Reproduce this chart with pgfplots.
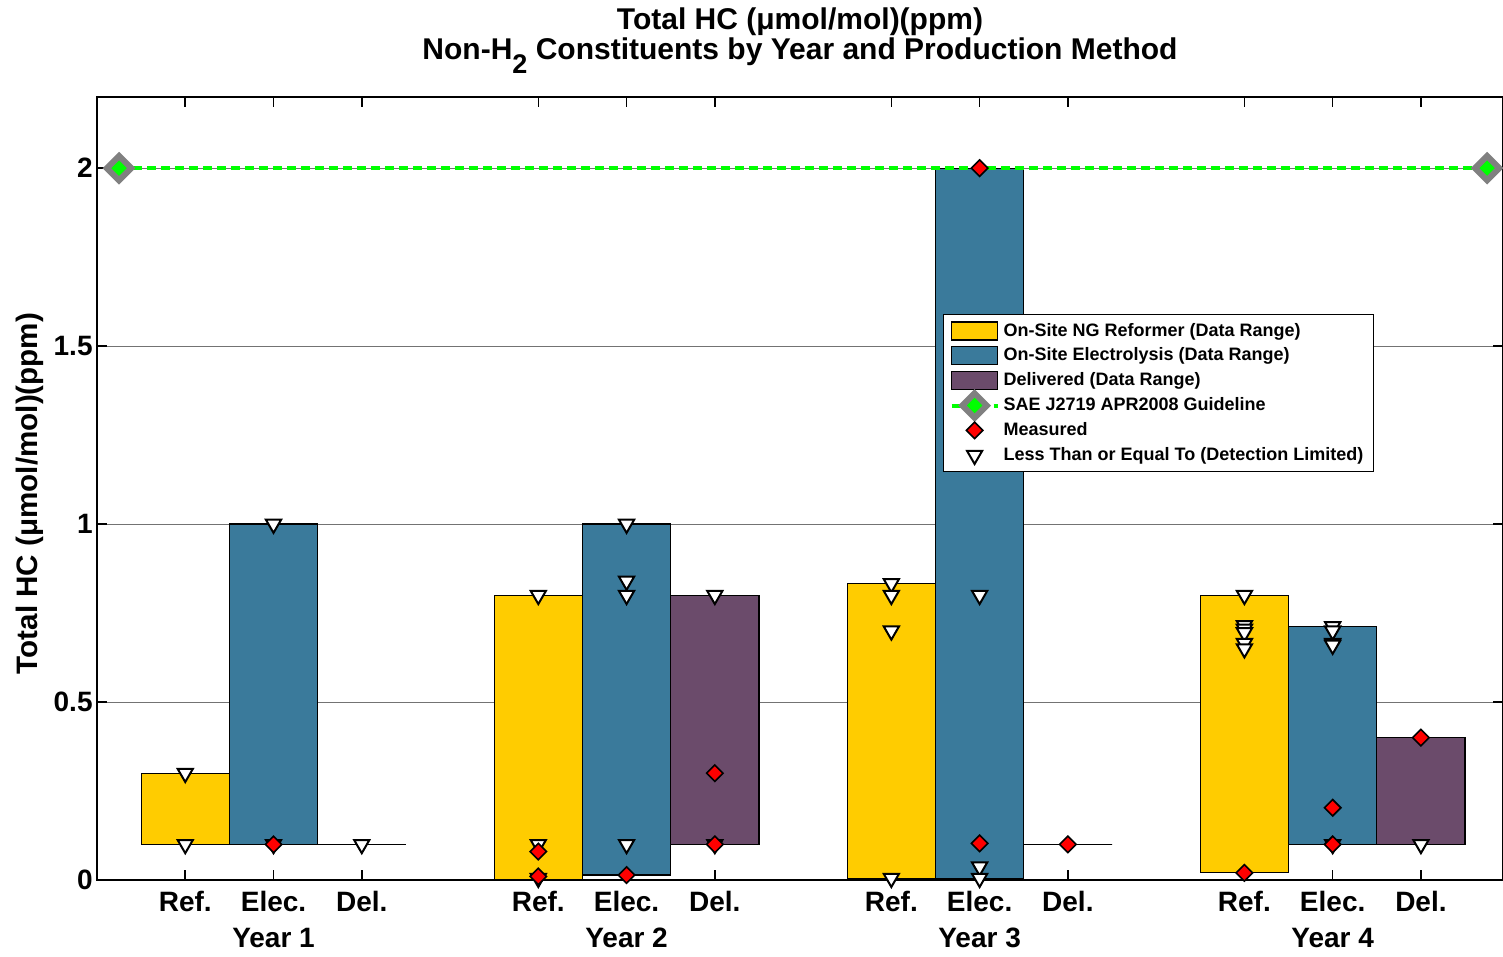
\documentclass[border=0pt]{standalone}
\usepackage{fontspec}
\setmainfont{Liberation Sans}
\usepackage{pgfplots}
\pgfplotsset{compat=1.18}

\definecolor{refyellow}{RGB}{255,204,0}
\definecolor{elecblue}{RGB}{58,122,155}
\definecolor{delpurple}{RGB}{107,75,107}
\definecolor{saegreen}{RGB}{0,255,0}

\pgfplotsset{
  rangebar/.style={draw=black, line width=0.6pt, forget plot},
  measured/.style={only marks, mark=square*, mark size=2.9pt,
    mark options={rotate=45, fill=red, draw=black, line width=0.8pt}},
  detlim/.style={only marks, mark=triangle*, mark size=4.4pt,
    mark options={rotate=180, fill=white, draw=black, line width=1pt}},
  guideline/.style={saegreen, line width=2pt, dash pattern=on 4.5pt off 2.5pt,
    mark=square*, mark size=4.3pt,
    mark options={rotate=45, solid, fill=saegreen, draw=gray, line width=3pt}},
  boxlegend/.style={legend image code/.code={\draw[##1] (0pt,-4.5pt) rectangle (23pt,4.5pt);}},
  linelegend/.style={legend image code/.code={\draw[mark repeat=2,mark phase=2,##1]
    plot coordinates {(0pt,0pt) (11.5pt,0pt) (23pt,0pt)};}},
}

\begin{document}
\begin{tikzpicture}
\begin{axis}[
    name=ax,
    scale only axis,
    width=703pt, height=391.5pt,
    xmin=0, xmax=15.93,
    ymin=0, ymax=2.2,
    axis line style={line width=1pt},
    tick style={black, line width=0.8pt},
    major tick length=5pt,
    xtick={1,2,3,5,6,7,9,10,11,13,14,15},
    xticklabels={Ref.,Elec.,Del.,Ref.,Elec.,Del.,Ref.,Elec.,Del.,Ref.,Elec.,Del.},
    extra x ticks={2,6,10,14},
    extra x tick labels={Year 1,Year 2,Year 3,Year 4},
    extra x tick style={major tick length=0pt, tick label style={yshift=-18.5pt}},
    ytick={0,0.5,1,1.5,2},
    yticklabels={0,0.5,1,1.5,2},
    ymajorgrids,
    major grid style={black!55, line width=0.4pt},
    /pgf/number format/assume math mode=true,
    xticklabel style={font=\bfseries\fontsize{14}{16}\selectfont, inner sep=0pt, yshift=-5.5pt},
    yticklabel style={font=\bfseries\fontsize{14}{16}\selectfont, inner sep=0pt, xshift=-2pt},
    ylabel={Total HC (μmol/mol)(ppm)},
    ylabel style={font=\bfseries\fontsize{14.8}{16}\selectfont,
      at={(axis description cs:-0.0477,0.4936)}, anchor=center},
    title={Total HC (μmol/mol)(ppm)\\Non-H\raisebox{-7pt}{\fontsize{13.5}{14}\selectfont 2} Constituents by Year and Production Method},
    title style={font=\bfseries\fontsize{15}{15}\selectfont, align=center,
      at={(axis description cs:0.5,1)}, anchor=south, inner sep=0pt, yshift=5.5pt},
    legend style={at={(0.6017,0.7229)}, anchor=north west, draw=black, fill=white,
      line width=0.6pt, font=\bfseries\fontsize{9}{10}\selectfont,
      nodes={inner ysep=2.2pt, inner xsep=2pt}, row sep=0pt},
    legend cell align=left,
]

% data ranges (min to max) per year and production method
\addplot[rangebar, fill=refyellow] coordinates {(0.5,0.1) (1.5,0.1) (1.5,0.3) (0.5,0.3) (0.5,0.1)};
\addplot[rangebar, fill=refyellow] coordinates {(4.5,0.002) (5.5,0.002) (5.5,0.8) (4.5,0.8) (4.5,0.002)};
\addplot[rangebar, fill=refyellow] coordinates {(8.5,0.005) (9.5,0.005) (9.5,0.833) (8.5,0.833) (8.5,0.005)};
\addplot[rangebar, fill=refyellow] coordinates {(12.5,0.02) (13.5,0.02) (13.5,0.8) (12.5,0.8) (12.5,0.02)};

\addplot[rangebar, fill=elecblue] coordinates {(1.5,0.1) (2.5,0.1) (2.5,1.0) (1.5,1.0) (1.5,0.1)};
\addplot[rangebar, fill=elecblue] coordinates {(5.5,0.014) (6.5,0.014) (6.5,1.0) (5.5,1.0) (5.5,0.014)};
\addplot[rangebar, fill=elecblue] coordinates {(9.5,0.005) (10.5,0.005) (10.5,2.0) (9.5,2.0) (9.5,0.005)};
\addplot[rangebar, fill=elecblue] coordinates {(13.5,0.1) (14.5,0.1) (14.5,0.713) (13.5,0.713) (13.5,0.1)};

\addplot[rangebar, fill=delpurple] coordinates {(2.5,0.1) (3.5,0.1) (3.5,0.1) (2.5,0.1) (2.5,0.1)};
\addplot[rangebar, fill=delpurple] coordinates {(6.5,0.1) (7.5,0.1) (7.5,0.8) (6.5,0.8) (6.5,0.1)};
\addplot[rangebar, fill=delpurple] coordinates {(10.5,0.1) (11.5,0.1) (11.5,0.1) (10.5,0.1) (10.5,0.1)};
\addplot[rangebar, fill=delpurple] coordinates {(14.5,0.1) (15.5,0.1) (15.5,0.4) (14.5,0.4) (14.5,0.1)};

% SAE J2719 guideline
\addplot[guideline, forget plot] coordinates {(0.25,2) (15.75,2)};

% detection limited results
\addplot[detlim, forget plot] coordinates {
  (1,0.3) (1,0.1) (2,1.0) (2,0.1) (3,0.1)
  (5,0.8) (5,0.1) (5,0.005) (6,1.0) (6,0.84) (6,0.8) (6,0.1) (7,0.8) (7,0.1)
  (9,0.833) (9,0.8) (9,0.7) (9,0.005) (10,0.8) (10,0.037) (10,0.005)
  (13,0.8) (13,0.715) (13,0.705) (13,0.695) (13,0.665) (13,0.65)
  (14,0.712) (14,0.70) (14,0.665) (14,0.66) (14,0.1) (15,0.1)
};

% measured results
\addplot[measured, forget plot] coordinates {
  (2,0.1) (5,0.08) (5,0.01) (6,0.014) (7,0.3) (7,0.1)
  (10,2.0) (10,0.103) (11,0.1) (13,0.02) (14,0.203) (14,0.1) (15,0.4)
};

\addlegendimage{boxlegend, fill=refyellow, draw=black, line width=0.6pt}
\addlegendentry{On-Site NG Reformer (Data Range)}
\addlegendimage{boxlegend, fill=elecblue, draw=black, line width=0.6pt}
\addlegendentry{On-Site Electrolysis (Data Range)}
\addlegendimage{boxlegend, fill=delpurple, draw=black, line width=0.6pt}
\addlegendentry{Delivered (Data Range)}
\addlegendimage{linelegend, guideline}
\addlegendentry{SAE J2719 APR2008 Guideline}
\addlegendimage{linelegend, measured}
\addlegendentry{Measured}
\addlegendimage{linelegend, detlim}
\addlegendentry{Less Than or Equal To (Detection Limited)}
\end{axis}
\pgfresetboundingbox
\path ([xshift=-48.5pt,yshift=-38.5pt]ax.south west) rectangle ([yshift=48.5pt]ax.north east);
\end{tikzpicture}
\end{document}
